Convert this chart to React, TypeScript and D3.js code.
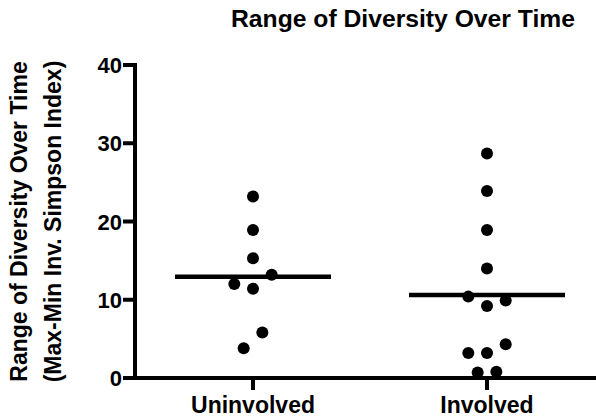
import React, { useEffect, useRef } from "react";
import * as d3 from "d3";

const categories = ["Uninvolved", "Involved"];
const uninvolved = [23.2, 18.9, 15.3, 12.0, 11.4, 13.2, 3.8, 5.8];
const involved = [28.7, 23.9, 18.9, 14.0, 10.4, 9.2, 9.9, 3.2, 3.2, 4.3, 0.7, 0.8];
const yTicks = [0, 10, 20, 30, 40];

const title = "Range of Diversity Over Time";
const yLabel1 = "Range of Diversity Over Time";
const yLabel2 = "(Max-Min Inv. Simpson Index)";

// group points that sit close in value, then spread them side by side
function swarm(values: number[], gap: number) {
  const order = values.map((v, i) => i).sort((a, b) => values[b] - values[a]);
  const slots = new Array(values.length).fill(0);
  let i = 0;
  while (i < order.length) {
    const start = values[order[i]];
    const group = [order[i]];
    let j = i + 1;
    while (j < order.length && start - values[order[j]] <= gap) {
      group.push(order[j]);
      j++;
    }
    group.sort((a, b) => a - b);
    group.forEach((idx, k) => {
      slots[idx] = k - (group.length - 1) / 2;
    });
    i = j;
  }
  return slots;
}

const App = () => {
  const ref = useRef<SVGSVGElement>(null);

  const width = 596;
  const height = 419;
  const margin = { top: 65, left: 135, bottom: 41 };
  const font = "'Liberation Sans', Arial, sans-serif";

  useEffect(() => {
    const svg = d3.select(ref.current);
    svg.selectAll("*").remove();

    const y = d3
      .scaleLinear()
      .domain([0, 40])
      .range([height - margin.bottom, margin.top]);
    const x = d3
      .scalePoint()
      .domain(categories)
      .range([margin.left + 1, 604])
      .padding(0.5);

    const series = [uninvolved, involved];
    const spacing = 18.7;

    // title
    svg
      .append("text")
      .attr("x", 403)
      .attr("y", 27)
      .attr("text-anchor", "middle")
      .style("font-family", font)
      .style("font-weight", "bold")
      .style("font-size", "24.7px")
      .text(title);

    // y label
    const yl = svg
      .append("g")
      .attr("transform", "translate(0," + (margin.top + y.range()[0]) / 2 + ") rotate(-90)");
    [yLabel1, yLabel2].forEach((t, i) => {
      yl.append("text")
        .attr("x", 0)
        .attr("y", 27 + i * 34)
        .attr("text-anchor", "middle")
        .style("font-family", font)
        .style("font-weight", "bold")
        .style("font-size", "23px")
        .text(t);
    });

    // y axis
    svg
      .append("line")
      .attr("x1", margin.left)
      .attr("x2", margin.left)
      .attr("y1", y(40) - 2)
      .attr("y2", y(0))
      .attr("stroke", "black")
      .attr("stroke-width", 4);
    yTicks.forEach((t) => {
      svg
        .append("line")
        .attr("x1", margin.left - 12)
        .attr("x2", margin.left)
        .attr("y1", y(t))
        .attr("y2", y(t))
        .attr("stroke", "black")
        .attr("stroke-width", 4);
      svg
        .append("text")
        .attr("x", margin.left - 13)
        .attr("y", y(t) + 8)
        .attr("text-anchor", "end")
        .style("font-family", font)
        .style("font-weight", "bold")
        .style("font-size", "22px")
        .text(t);
    });

    // x axis
    svg
      .append("line")
      .attr("x1", margin.left - 2)
      .attr("x2", width)
      .attr("y1", y(0))
      .attr("y2", y(0))
      .attr("stroke", "black")
      .attr("stroke-width", 4);
    categories.forEach((c) => {
      svg
        .append("line")
        .attr("x1", x(c))
        .attr("x2", x(c))
        .attr("y1", y(0))
        .attr("y2", y(0) + 12)
        .attr("stroke", "black")
        .attr("stroke-width", 4);
      svg
        .append("text")
        .attr("x", x(c))
        .attr("y", 413)
        .attr("text-anchor", "middle")
        .style("font-family", font)
        .style("font-weight", "bold")
        .style("font-size", "23px")
        .text(c);
    });

    // points and mean lines
    series.forEach((vals, s) => {
      const cx = x(categories[s]) as number;
      const slots = swarm(vals, 2.05);
      svg
        .append("g")
        .selectAll("circle")
        .data(vals)
        .join("circle")
        .attr("cx", (d, i) => cx + slots[i] * spacing)
        .attr("cy", (d) => y(d))
        .attr("r", 6)
        .attr("fill", "black");

      const mean = d3.mean(vals) as number;
      svg
        .append("line")
        .attr("x1", cx - 78)
        .attr("x2", cx + 78)
        .attr("y1", y(mean))
        .attr("y2", y(mean))
        .attr("stroke", "black")
        .attr("stroke-width", 4.5);
    });
  }, []);

  return (
    <svg
      ref={ref}
      width={width}
      height={height}
      style={{ position: "absolute", left: 0, top: 0, background: "white" }}
    />
  );
};

export default App;
